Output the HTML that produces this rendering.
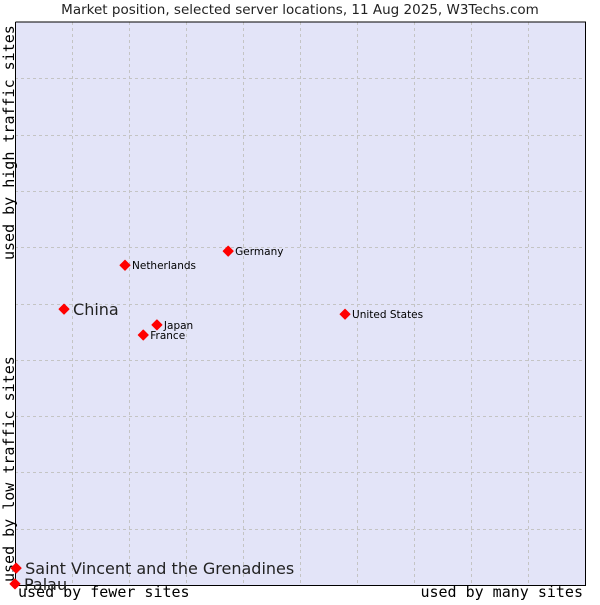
<!DOCTYPE html>
<html><head><meta charset="utf-8"><style>
body{margin:0;background:#fff;}
svg text{font-family:"DejaVu Sans","Liberation Sans",sans-serif;}
.mono{font-family:"DejaVu Sans Mono","Liberation Mono",monospace;}
</style></head><body>
<svg id="chart" width="600" height="600" xmlns="http://www.w3.org/2000/svg">
<text x="300" y="14" text-anchor="middle" font-size="13.5" fill="#222">Market position, selected server locations, 11 Aug 2025, W3Techs.com</text>
<rect x="15" y="22" width="570" height="563" fill="#e3e4f8"/>
<g id="grid"></g>
<path d="M15.5 22 V585.5 H585.5 V22 H15.5" fill="none" stroke="#000" stroke-width="1"/>
<text class="mono" x="18" y="597" font-size="15" fill="#000">used by fewer sites</text>
<text class="mono" x="583" y="597" font-size="15" text-anchor="end" fill="#000">used by many sites</text>
<text class="mono" transform="translate(14,582) rotate(-90)" font-size="15" fill="#000">used by low traffic sites</text>
<text class="mono" transform="translate(14,260) rotate(-90)" font-size="15" fill="#000">used by high traffic sites</text>
<g id="points"></g>
</svg>
<script>
const names = ["China","Netherlands","Germany","Japan","France","United States","Saint Vincent and the Grenadines","Palau"];
const xVals = [8.6,19.3,37.4,24.9,22.5,57.9,0.2,0.0];
const yVals = [49.0,56.8,59.3,46.2,44.4,48.1,3.0,0.2];
const bigLabel = [true,false,false,false,false,false,true,true];
const gridSteps = [10,20,30,40,50,60,70,80,90];
const NS="http://www.w3.org/2000/svg";
const X0=15,X1=585,Y0=585,Y1=22;
function xs(v){return X0+(X1-X0)*v/100;}
function ys(v){return Y0-(Y0-Y1)*v/100;}
const grid=document.getElementById('grid');
gridSteps.forEach(g=>{
  const v=document.createElementNS(NS,'line');
  v.setAttribute('x1',Math.round(xs(g))+.5);v.setAttribute('x2',Math.round(xs(g))+.5);
  v.setAttribute('y1',Y1);v.setAttribute('y2',Y0);
  v.setAttribute('stroke','#c4c4c4');v.setAttribute('stroke-dasharray','3,3');
  
  
  grid.appendChild(v);
  const h=document.createElementNS(NS,'line');
  h.setAttribute('y1',Math.round(ys(g))+.5);h.setAttribute('y2',Math.round(ys(g))+.5);
  h.setAttribute('x1',X0);h.setAttribute('x2',X1);
  h.setAttribute('stroke','#c4c4c4');h.setAttribute('stroke-dasharray','3,3');
  
  
  grid.appendChild(h);
});
const pts=document.getElementById('points');
names.forEach((n,i)=>{
  const cx=xs(xVals[i]),cy=ys(yVals[i]);
  const p=document.createElementNS(NS,'path');
  p.setAttribute('d',`M${cx} ${cy-5} L${cx+5} ${cy} L${cx} ${cy+5} L${cx-5} ${cy} Z`);
  p.setAttribute('fill','#f00');
  p.setAttribute('stroke','#f00');
  p.setAttribute('stroke-width','1');
  p.setAttribute('stroke-linejoin','round');
  
  
  pts.appendChild(p);
  const t=document.createElementNS(NS,'text');
  const big=bigLabel[i];
  t.setAttribute('x',cx+(big?9:7));
  t.setAttribute('y',cy+(big?6:4));
  t.setAttribute('font-size',big?16:10.5);
  t.setAttribute('fill',big?'#222':'#000');
  t.textContent=n;
  
  
  pts.appendChild(t);
});
</script>
</body></html>
